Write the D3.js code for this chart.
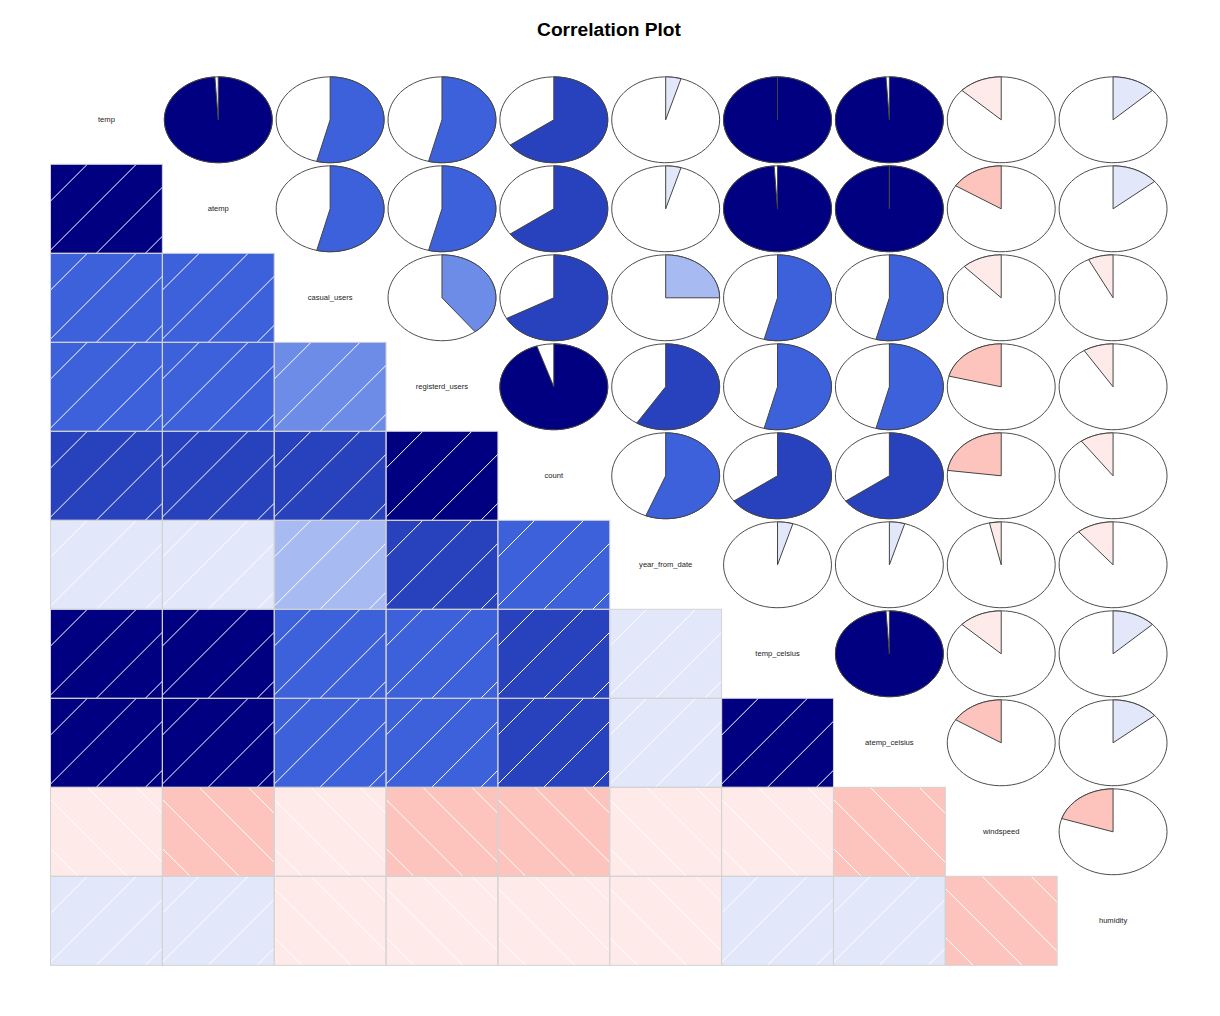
<!DOCTYPE html>
<html>
<head>
<meta charset="utf-8">
<script src="https://cdn.jsdelivr.net/npm/d3@7"></script>
<style>
  html, body { margin: 0; padding: 0; background: #ffffff; }
  svg { display: block; }
</style>
</head>
<body>
<svg id="chart" width="1220" height="1016"></svg>
<script>
// ---------------- data ----------------
const chartTitle = "Correlation Plot";
const variables = ["temp", "atemp", "casual_users", "registerd_users", "count",
                   "year_from_date", "temp_celsius", "atemp_celsius", "windspeed", "humidity"];

// correlation matrix rows (symmetric)
const rTemp       = [1.00, 0.99, 0.54, 0.54, 0.65, 0.046, 1.00, 0.99, -0.13, 0.13];
const rAtemp      = [0.99, 1.00, 0.54, 0.54, 0.65, 0.046, 0.99, 1.00, -0.16, 0.14];
const rCasual     = [0.54, 0.54, 1.00, 0.395, 0.67, 0.25, 0.54, 0.54, -0.12, -0.075];
const rRegistered = [0.54, 0.54, 0.395, 1.00, 0.949, 0.59, 0.54, 0.54, -0.21, -0.09];
const rCount      = [0.65, 0.65, 0.67, 0.949, 1.00, 0.56, 0.65, 0.65, -0.23, -0.10];
const rYear       = [0.046, 0.046, 0.25, 0.59, 0.56, 1.00, 0.046, 0.046, -0.035, -0.11];
const rTempC      = [1.00, 0.99, 0.54, 0.54, 0.65, 0.046, 1.00, 0.99, -0.13, 0.13];
const rAtempC     = [0.99, 1.00, 0.54, 0.54, 0.65, 0.046, 0.99, 1.00, -0.16, 0.14];
const rWindspeed  = [-0.13, -0.16, -0.12, -0.21, -0.23, -0.035, -0.13, -0.16, 1.00, -0.20];
const rHumidity   = [0.13, 0.14, -0.075, -0.09, -0.10, -0.11, 0.13, 0.14, -0.20, 1.00];
const corrRows = [rTemp, rAtemp, rCasual, rRegistered, rCount, rYear, rTempC, rAtempC, rWindspeed, rHumidity];

// colour ramp stops (corrgram default)
const rampStops = ["red", "salmon", "white", "royalblue", "navy"];
const nColors = 14;

// ---------------- layout ----------------
const svg = d3.select("#chart");
const W = 1220, H = 1016;
const gridLeft = 50.5, gridRight = 1169, gridTop = 75.3, gridBottom = 965.3;

const x = d3.scaleBand().domain(variables).range([gridLeft, gridRight]).padding(0);
const y = d3.scaleBand().domain(variables).range([gridTop, gridBottom]).padding(0);

const pal = d3.quantize(d3.piecewise(d3.interpolateRgb, rampStops), nColors);
const colorScale = d3.scaleQuantize().domain([-1, 1]).range(pal);

svg.append("rect").attr("width", W).attr("height", H).attr("fill", "#ffffff");

// title
svg.append("text")
  .attr("x", 609).attr("y", 36)
  .attr("text-anchor", "middle")
  .attr("font-family", "Liberation Sans, Arial, sans-serif")
  .attr("font-weight", "bold")
  .attr("font-size", 19.2)
  .attr("fill", "#000")
  .text(chartTitle);

const defs = svg.append("defs");
const cells = [];
variables.forEach((vr, i) => variables.forEach((vc, j) => cells.push({i, j, r: corrRows[i][j]})));

const hatchSpacing = 49;   // horizontal distance between hatch lines
const hatchOffset = 36.8;  // first hatch crossing from cell corner

// ---------------- lower panels: shade ----------------
const lower = svg.append("g");
cells.filter(c => c.i > c.j).forEach(c => {
  const x0 = x(variables[c.j]), y0 = y(variables[c.i]);
  const w = x.bandwidth(), h = y.bandwidth();
  const id = `clip-${c.i}-${c.j}`;
  defs.append("clipPath").attr("id", id)
    .append("rect").attr("x", x0).attr("y", y0).attr("width", w).attr("height", h);
  const g = lower.append("g");
  g.append("rect").attr("x", x0).attr("y", y0).attr("width", w).attr("height", h)
    .attr("fill", colorScale(c.r));
  const hg = g.append("g").attr("clip-path", `url(#${id})`);
  const segs = [];
  if (c.r > 0) {
    for (let k = -4; k <= 8; k++) {
      const cst = x0 + y0 + hatchOffset + k * hatchSpacing;
      segs.push([[cst - (y0 + h + 5), y0 + h + 5], [cst - (y0 - 5), y0 - 5]]);
    }
  } else {
    for (let k = -4; k <= 8; k++) {
      const cst = x0 - y0 + hatchOffset + k * hatchSpacing - hatchSpacing * 2;
      segs.push([[cst + (y0 - 5), y0 - 5], [cst + (y0 + h + 5), y0 + h + 5]]);
    }
  }
  hg.selectAll("line").data(segs).join("line")
    .attr("x1", d => d[0][0]).attr("y1", d => d[0][1])
    .attr("x2", d => d[1][0]).attr("y2", d => d[1][1])
    .attr("stroke", "#ffffff").attr("stroke-width", 1);
});
cells.filter(c => c.i > c.j).forEach(c => {
  lower.append("rect")
    .attr("x", x(variables[c.j])).attr("y", y(variables[c.i]))
    .attr("width", x.bandwidth()).attr("height", y.bandwidth())
    .attr("fill", "none").attr("stroke", "#d3d3d3").attr("stroke-width", 1);
});

// ---------------- upper panels: pie ----------------
const upper = svg.append("g");
const pieFrac = 0.965;
cells.filter(c => c.i < c.j).forEach(c => {
  const cx = x(variables[c.j]) + x.bandwidth() / 2;
  const cy = y(variables[c.i]) + y.bandwidth() / 2;
  const rx = x.bandwidth() / 2 * pieFrac, ry = y.bandwidth() / 2 * pieFrac;
  const px = d3.scaleLinear().domain([-1, 1]).range([cx - rx, cx + rx]);
  const py = d3.scaleLinear().domain([-1, 1]).range([cy + ry, cy - ry]);
  const line = d3.line().x(d => px(d[0])).y(d => py(d[1]));

  const circ = d3.range(60).map(k => {
    const a = k / 59 * 2 * Math.PI;
    return [Math.cos(a), Math.sin(a)];
  });
  upper.append("path").attr("d", line(circ) + "Z")
    .attr("fill", "none").attr("stroke", "#4d4d4d").attr("stroke-width", 1);

  const n = Math.round(60 * Math.abs(c.r));
  if (n > 0) {
    const pts = [[0, 0]];
    for (let k = 0; k < n; k++) {
      const a = Math.PI / 2 + (n === 1 ? 0 : k / (n - 1)) * (2 * Math.PI * -c.r);
      pts.push([Math.cos(a), Math.sin(a)]);
    }
    pts.push([0, 0]);
    upper.append("path").attr("d", line(pts) + "Z")
      .attr("fill", colorScale(c.r)).attr("stroke", "#444").attr("stroke-width", 1)
      .attr("stroke-linejoin", "round");
  }
});

// ---------------- diagonal: labels ----------------
svg.append("g").selectAll("text").data(variables).join("text")
  .attr("x", d => x(d) + x.bandwidth() / 2)
  .attr("y", d => y(d) + y.bandwidth() / 2 + 2.6)
  .attr("text-anchor", "middle")
  .attr("font-family", "Liberation Sans, Arial, sans-serif")
  .attr("font-size", 7.6)
  .attr("fill", "#222")
  .text(d => d);
</script>
</body>
</html>
